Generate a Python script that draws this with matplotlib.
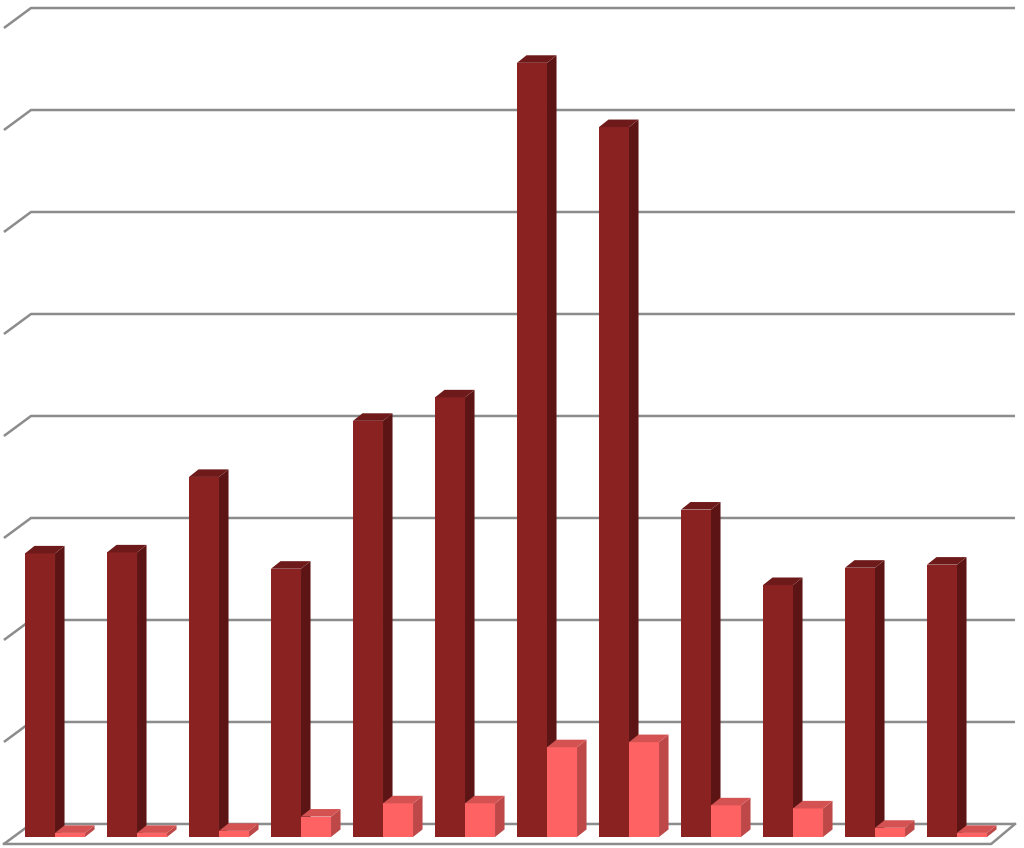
import matplotlib
matplotlib.use("Agg")
import matplotlib.pyplot as plt
from matplotlib.patches import Polygon
import numpy as np

# values (gridline step = 100)
groups = np.arange(12)
series_a = [278, 279, 353, 263, 408, 431, 759, 696, 321, 247, 264, 267]
series_b = [4, 4, 6, 20, 33, 33, 88, 93, 31, 28, 9, 4]
grid_vals = np.arange(0, 900, 100)

# colours: front, side, top
dark = ("#8B2222", "#5C1414", "#6E1A1A")
light = ("#FF6262", "#BE4848", "#D45252")
grid_col = "#8C8C8C"

bw = 0.366      # bar width in group units
ddx = 0.116     # depth offset of a bar (x)
ddy = 7.4       # depth offset of a bar (y, value units)
wall_dy = 12.75  # back wall above bar baseline
side_dx = 0.33   # left wall diagonal
side_dy = 19.6

fig = plt.figure(figsize=(10.24, 8.48), dpi=100)
ax = fig.add_axes([0, 0, 1, 1])
ax.set_xlim(-0.671, 11.817)
ax.set_ylim(-10.8, 820.6)
ax.axis("off")

# back wall gridlines with left diagonal
x_back0, x_back1 = -0.293, 11.707
for v in grid_vals:
    yb = v + wall_dy
    ax.plot([x_back0 - side_dx, x_back0, x_back1], [yb - side_dy, yb, yb],
            color=grid_col, lw=1.8, solid_capstyle="butt", zorder=1)

# floor front edge and right diagonal
yf = wall_dy - side_dy
ax.plot([x_back0 - side_dx, x_back1 - 0.29, x_back1], [yf, yf, wall_dy],
        color=grid_col, lw=1.8, zorder=1)


def bar3d(x0, h, cols):
    ax.bar(x0, h, width=bw, align="edge", color=cols[0], linewidth=0, zorder=3)
    x1 = x0 + bw
    side = Polygon([(x1, 0), (x1 + ddx, ddy), (x1 + ddx, h + ddy), (x1, h)],
                   closed=True, facecolor=cols[1], edgecolor="none", zorder=3)
    top = Polygon([(x0, h), (x0 + ddx, h + ddy), (x1 + ddx, h + ddy), (x1, h)],
                  closed=True, facecolor=cols[2], edgecolor="none", zorder=3)
    ax.add_patch(side)
    ax.add_patch(top)


for g, a, b in zip(groups, series_a, series_b):
    bar3d(g - bw, a, dark)
    bar3d(g, b, light)

fig.savefig("out.png", dpi=100, facecolor="white")
